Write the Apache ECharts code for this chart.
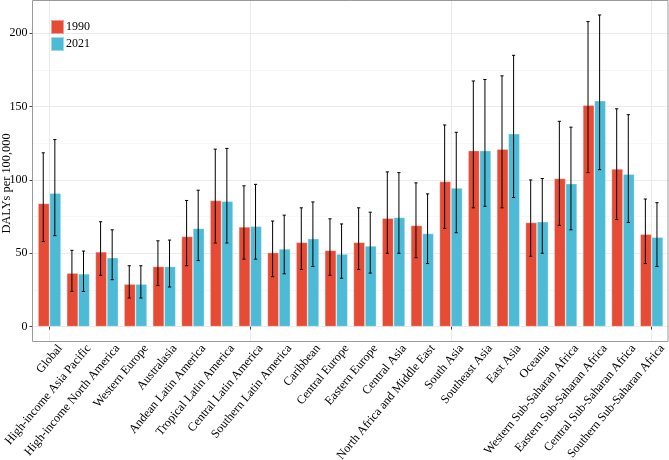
<!DOCTYPE html>
<html><head><meta charset="utf-8">
<style>html,body{margin:0;padding:0;background:#fff}#c{width:669px;height:460px}</style>
<script src="https://cdn.jsdelivr.net/npm/echarts@6/dist/echarts.min.js"></script>
</head><body><div id="c"></div>
<script>
const categories = ["Global","High-income Asia Pacific","High-income North America","Western Europe","Australasia","Andean Latin America","Tropical Latin America","Central Latin America","Southern Latin America","Caribbean","Central Europe","Eastern Europe","Central Asia","North Africa and Middle East","South Asia","Southeast Asia","East Asia","Oceania","Western Sub-Saharan Africa","Eastern Sub-Saharan Africa","Central Sub-Saharan Africa","Southern Sub-Saharan Africa"];
const mean1990 = [84,36.5,51,29,41,61.5,86,68,50.5,57.5,52,57.5,74,69,99,120,121,71,101,151,107.5,63];
const low1990  = [58,24,35,19.5,28,41.5,57,46,34,39,35,39,50,47,67,81,81,48,69,105,73,43];
const up1990   = [118.5,52,71.5,41.5,58.5,86,121,96,72,81,73.5,81,105.5,98,137.5,167.5,171,100,140,208,148.5,87];
const mean2021 = [91,36,47,29,41,67,85.5,68.5,53,60,49.5,55,74.5,63.5,94.5,120,131.5,71.5,97.5,154,104,61];
const low2021  = [62,24,32,19.5,27,45,57,46,36,41,33,36.5,50,43,64,82,88,50,66,107,71,41];
const up2021   = [127.5,51.5,66,41.5,59,93,121.5,97,76,85,70,78,105,90.5,132.5,168.5,185,101,136,212.5,144.5,84.5];

const font = '"Liberation Serif","Times New Roman",serif';
const panel={l:32.5,r:668,t:0.5,b:341.5};
const inner={l:35.2,r:666};
const labelShift=6;
const y0=326.6,y200=33.3;
const yMin=(y0-panel.b)/((y0-y200)/200), yMax=(y0-panel.t)/((y0-y200)/200);

function errSeries(name,low,up,offset){
  return {
    name:name+' UI',type:'custom',xAxisIndex:0,yAxisIndex:0,z:5,
    data:categories.map((c,i)=>[i,low[i],up[i]]),
    encode:{x:0,y:[1,2]},
    renderItem(params,api){
      const i=api.value(0);
      const a=api.coord([i,api.value(1)]),b=api.coord([i,api.value(2)]);
      const x=a[0]+offset;
      const st={stroke:'#000',lineWidth:1,fill:'none'};
      return {type:'group',children:[
        {type:'line',shape:{x1:x,y1:a[1],x2:x,y2:b[1]},style:st},
        {type:'line',shape:{x1:x-1.6,y1:a[1],x2:x+1.6,y2:a[1]},style:st},
        {type:'line',shape:{x1:x-1.6,y1:b[1],x2:x+1.6,y2:b[1]},style:st}
      ]};
    }
  };
}
const barStyle=c=>({color:c,borderColor:'rgba(255,255,255,0.45)',borderWidth:0.7});
const chart=echarts.init(document.getElementById('c'),null,{renderer:'canvas'});
chart.setOption({
  animation:false,backgroundColor:'#fff',textStyle:{fontFamily:font},
  legend:{left:50,top:19,orient:'vertical',icon:'rect',itemWidth:13,itemHeight:14,itemGap:1,
    data:['1990','2021'],textStyle:{fontFamily:font,fontSize:12,color:'#000',padding:[0,0,0,-3]},
    padding:0,selectedMode:false},
  grid:[
    {left:inner.l,width:inner.r-inner.l,top:panel.t,height:panel.b-panel.t,containLabel:false,outerBoundsMode:'none'},
    {left:panel.l,width:panel.r-panel.l,top:y200,height:y0-y200,containLabel:false,outerBoundsMode:'none'},
    {left:inner.l+labelShift,width:inner.r-inner.l,top:panel.t,height:panel.b-panel.t,containLabel:false,outerBoundsMode:'none'}
  ],
  graphic:[{type:'rect',z:20,silent:true,shape:{x:panel.l,y:panel.t,width:panel.r-panel.l,height:panel.b-panel.t},
    style:{fill:'none',stroke:'#9a9a9a',lineWidth:1}}],
  xAxis:[
    {type:'category',gridIndex:0,data:categories,boundaryGap:true,
     axisLine:{show:false},
     axisTick:{show:true,alignWithLabel:true,length:3,lineStyle:{color:'#444',width:1}},
     splitLine:{show:true,alignWithLabel:true,lineStyle:{color:'#ebebeb',width:1}},
     axisLabel:{show:false}},
    {type:'category',gridIndex:1,data:categories,show:false},
    {type:'category',gridIndex:2,data:categories,boundaryGap:true,
     axisLine:{show:false},axisTick:{show:false},splitLine:{show:false},
     axisLabel:{interval:0,rotate:50,fontFamily:font,fontSize:12.2,color:'#000',margin:1,align:'right',verticalAlign:'top',hideOverlap:false}}
  ],
  yAxis:[
    {type:'value',gridIndex:0,min:yMin,max:yMax,show:false,splitLine:{show:false}},
    {type:'value',gridIndex:1,min:0,max:200,interval:50,
     name:'DALYs per 100,000',nameLocation:'middle',nameRotate:90,nameGap:19.5,nameMoveOverlap:false,
     nameTextStyle:{fontFamily:font,fontSize:12.4,color:'#000',padding:[0,7,0,0]},
     axisLine:{show:false},axisTick:{show:true,length:3,lineStyle:{color:'#444'}},
     axisLabel:{fontFamily:font,fontSize:12,color:'#000',margin:5},
     splitLine:{show:true,lineStyle:{color:'#ebebeb',width:1}},
     minorTick:{show:false,splitNumber:2},
     minorSplitLine:{show:true,lineStyle:{color:'#f3f3f3',width:0.7}}},
    {type:'value',gridIndex:2,min:0,max:200,show:false,splitLine:{show:false}}
  ],
  series:[
    {name:'1990',type:'bar',xAxisIndex:0,yAxisIndex:0,data:mean1990,barWidth:11.5,barGap:'0%',itemStyle:barStyle('#E64B35'),z:3},
    {name:'2021',type:'bar',xAxisIndex:0,yAxisIndex:0,data:mean2021,barWidth:11.5,barGap:'0%',itemStyle:barStyle('#4DBBD5'),z:3},
    errSeries('1990',low1990,up1990,-6.3),
    errSeries('2021',low2021,up2021,5.3)
  ]
});
</script></body></html>
